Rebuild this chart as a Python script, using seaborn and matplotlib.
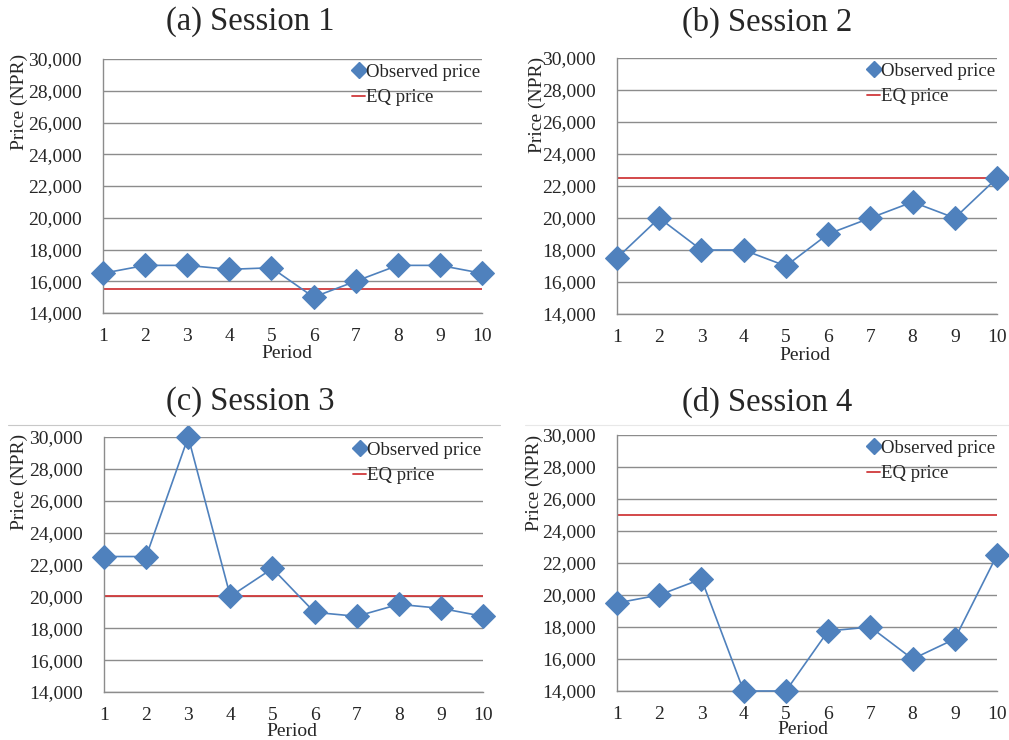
import numpy as np
import pandas as pd
import matplotlib
matplotlib.use("Agg")
import matplotlib.pyplot as plt
from matplotlib.lines import Line2D
import seaborn as sns

periods = [1, 2, 3, 4, 5, 6, 7, 8, 9, 10]
session1 = [16500, 17000, 17000, 16750, 16850, 15000, 16000, 17000, 17000, 16500]
session2 = [17500, 20000, 18000, 18000, 17000, 19000, 20000, 21000, 20000, 22500]
session3 = [22500, 22500, 30000, 20000, 21750, 19000, 18750, 19500, 19250, 18750]
session4 = [19500, 20000, 21000, 14000, 14000, 17750, 18000, 16000, 17250, 22500]
eq_prices = [15500, 22500, 20000, 25000]
titles = ["(a) Session 1", "(b) Session 2", "(c) Session 3", "(d) Session 4"]
y_ticks = [14000, 16000, 18000, 20000, 22000, 24000, 26000, 28000, 30000]
y_ticklabels = ["14,000", "16,000", "18,000", "20,000", "22,000", "24,000", "26,000", "28,000", "30,000"]

sns.set_style("white")
plt.rcParams["font.family"] = ["Liberation Serif", "DejaVu Serif"]

W, H = 1009, 740
fig = plt.figure(figsize=(W / 100, H / 100), dpi=100)

BLUE = "#4F81BD"
RED = "#D0393B"
GRID = "#8C8C8C"

# pixel boxes: left, right, top, bottom
boxes = [(103, 482, 59, 313), (617, 997, 58, 314), (104, 483, 437, 692), (617, 997, 435, 691)]
title_pos = [(250, 22), (767, 22), (250, 402), (767, 402)]
ylabel_pos = [(19, 102), (537, 105), (19, 482), (534, 483)]
xlabel_pos = [(287, 353), (805, 355), (292, 732), (803, 730)]

all_sessions = [session1, session2, session3, session4]

for i, (vals, eq) in enumerate(zip(all_sessions, eq_prices)):
    l, r, t, b = boxes[i]
    ax = fig.add_axes([l / W, 1 - b / H, (r - l) / W, (b - t) / H])
    df = pd.DataFrame({"Period": periods, "Price": vals})
    ax.axhline(eq, color=RED, lw=1.3, zorder=2)
    sns.lineplot(data=df, x="Period", y="Price", ax=ax, color=BLUE, lw=1.2,
                 marker="D", markersize=12, markeredgecolor=BLUE, zorder=3,
                 clip_on=False)
    ax.set_xlim(1, 10)
    ax.set_ylim(14000, 30000)
    ax.set_xticks(periods)
    ax.set_xticklabels([str(p) for p in periods], fontsize=14)
    ax.set_yticks(y_ticks)
    ax.set_yticklabels(y_ticklabels, fontsize=14)
    ax.tick_params(axis="y", length=0, pad=15)
    ax.tick_params(axis="x", length=0, pad=11)
    ax.yaxis.grid(True, color=GRID, lw=1.0)
    ax.set_axisbelow(True)
    for s in ["top", "right"]:
        ax.spines[s].set_visible(False)
    for s in ["left", "bottom"]:
        ax.spines[s].set_color(GRID)
        ax.spines[s].set_linewidth(1.0)
    ax.set_xlabel("")
    ax.set_ylabel("")

    handles = [
        Line2D([], [], color=BLUE, marker="D", markersize=8, linestyle="None"),
        Line2D([], [], color=RED, lw=1.3),
    ]
    ax.legend(handles, ["Observed price", "EQ price"], loc="upper right",
              bbox_to_anchor=(1.0, 0.99), frameon=False, fontsize=13.5,
              handlelength=0.7, handletextpad=0.05, labelspacing=0.45,
              borderaxespad=0.0, borderpad=0.1)

    tx, ty = title_pos[i]
    fig.text(tx / W, 1 - ty / H, titles[i], ha="center", va="center", fontsize=23.5)
    yx, yy = ylabel_pos[i]
    fig.text(yx / W, 1 - yy / H, "Price (NPR)", ha="center", va="center",
             rotation=90, fontsize=14)
    xx, xy = xlabel_pos[i]
    fig.text(xx / W, 1 - xy / H, "Period", ha="center", va="center", fontsize=14)

# light chart borders seen at top of lower panels
fig.add_artist(Line2D([8 / W, 500 / W], [1 - 425 / H, 1 - 425 / H], color="#C8C8C8", lw=0.8))
fig.add_artist(Line2D([525 / W, 1009 / W], [1 - 425 / H, 1 - 425 / H], color="#E8E8E8", lw=0.8))

fig.savefig("out.png", dpi=100)
